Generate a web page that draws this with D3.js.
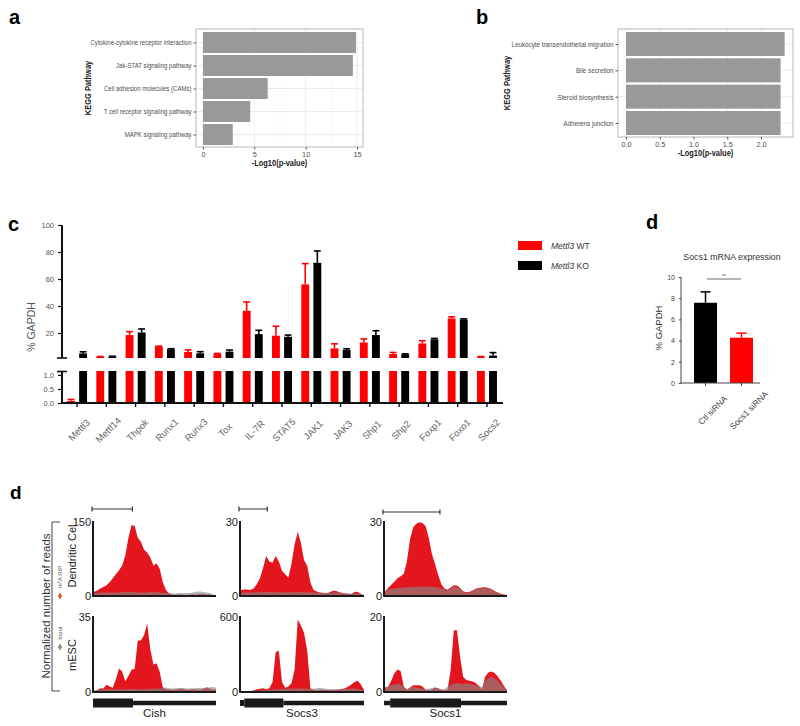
<!DOCTYPE html>
<html><head><meta charset="utf-8">
<script src="https://cdn.jsdelivr.net/npm/d3@7"></script>
<style>
body{margin:0;background:#fff}
svg{display:block}
text{font-family:"Liberation Sans",Arial,Helvetica,sans-serif}
</style>
</head><body><svg id="fig" width="800" height="726"></svg>
<script>
// ---------------- DATA ----------------
const keggA = ["Cytokine-cytokine receptor interaction","Jak-STAT signaling pathway","Cell adhesion molecules (CAMs)","T cell receptor signaling pathway","MAPK signaling pathway"];
const keggAValues = [14.9,14.6,6.3,4.6,2.9];
const keggATicks = [0,5,10,15];

const keggB = ["Leukocyte transendothelial migration","Bile secretion","Steroid biosynthesis","Adherens junction"];
const keggBValues = [2.35,2.29,2.29,2.29];
const keggBTicks = [0,0.5,1.0,1.5,2.0];

const genesC = ["Mettl3","Mettl14","Thpok","Runx1","Runx3","Tox","IL-7R","STAT5","JAK1","JAK3","Shp1","Shp2","Foxp1","Foxo1","Socs2"];
const wtValues = [0.08,2.3,18.5,9.9,6.0,4.4,36.5,18,56,8.6,13,4.4,12.3,30.8,2.2];
const wtErr    = [0.05,0.3,2.5,0.4,1.5,0.5,6.5,7,15.4,3.4,2.6,1.2,2.0,1.2,0.4];
const koValues = [4.9,2.5,20.4,8,5,6.2,19.2,17.2,72,7.4,18.5,4.2,15.3,30,3.3];
const koErr    = [1.2,0.3,2.6,0.4,1.2,1.2,2.8,1.3,8.8,0.9,3.2,0.4,0.7,0.5,2.2];
const upperTicks = [20,40,60,80,100];
const lowerTicks = [0,0.5,1.0];
const legendC = ["WT","KO"];

const siLabels = ["Ctl siRNA","Socs1 siRNA"];
const siValues = [7.57,4.27];
const siErr = [1.03,0.43];
const siTicks = [0,2,4,6,8,10];

const trackGenes = ["Cish","Socs3","Socs1"];
const trackMaxDC = [150,30,30];
const trackMaxES = [35,600,20];
const cishDcRip   = [8,11,15,18,22,28,36,44,52,62,82,118,144,142,118,110,94,88,78,62,66,55,28,12,5,3,2,3,3,2,2,3,3,3,4,4,3,3,2,1];
const cishDcInput = [6,6,7,7,7,7,7,7,7,8,8,8,8,8,7,7,7,7,8,8,8,7,6,6,5,5,5,6,6,6,6,6,8,9,9,8,7,6,3,1];
const socs3DcRip   = [2.4,2.6,2.6,2.4,3.0,4.8,7.2,11.5,16.2,14.0,13.5,16.2,14,10.2,8.8,7.5,13,21,26,21.5,14.5,12.2,5.5,2.4,1.8,1.4,1.3,1.1,1.4,2.0,2.1,1.6,1.3,1.0,0.9,0.8,1.6,1.7,0.8,0.3];
const socs3DcInput = [1.3,1.4,1.4,1.4,1.5,1.5,1.6,1.6,1.6,1.6,1.6,1.6,1.5,1.5,1.5,1.5,1.5,1.6,1.6,1.6,1.5,1.5,1.4,1.4,1.3,1.2,1.2,1.1,1.2,1.3,1.4,1.3,1.2,1.1,1.0,0.9,1.0,1.1,0.7,0.3];
const socs1DcRip   = [1.8,3.2,4.6,5.8,7.2,8.0,9.0,14,23,27.8,29.3,29.9,29.6,28.3,23.5,17,13,8.5,4.8,3.0,2.5,3.4,4.4,4.3,3.2,1.9,1.5,1.6,2.2,2.9,3.2,3.4,3.5,3.2,2.8,2.0,1.4,0.9,0.6,0.4];
const socs1DcInput = [1.8,2.6,2.9,3.0,3.2,3.3,3.4,3.5,3.6,3.6,3.7,3.7,3.8,3.8,3.8,3.7,3.6,3.4,3.0,2.6,2.2,3.0,4.0,3.8,2.8,1.7,1.2,1.3,1.9,2.6,2.9,3.1,3.1,2.9,2.5,1.7,1.1,0.7,0.4,0.3];
const cishEsRip   = [0.3,0.8,1.8,1.6,3.4,2.6,2.0,6.0,11.0,9.6,5.0,7.5,10.4,10.8,24,24,26.5,32,20,12.8,13.4,9.5,2.2,1.3,1.2,1.1,1.0,1.4,1.6,1.2,1.0,1.2,1.3,1.1,1.0,1.5,2.2,1.5,1.2,1.0];
const cishEsInput = [0.8,1.0,1.1,1.2,1.3,1.3,1.2,1.3,1.4,1.3,1.2,1.3,1.4,1.5,1.4,1.3,1.3,1.4,1.5,1.6,1.6,1.5,2.0,2.1,1.8,1.6,1.7,1.9,1.9,1.7,1.6,1.7,1.8,1.9,2.0,1.9,2.0,2.2,2.3,2.0];
const socs3EsRip   = [6,8,8,9,12,22,26,30,22,30,80,320,330,80,35,45,70,180,580,530,475,330,30,18,14,16,18,16,14,16,18,20,24,30,45,60,80,90,60,18];
const socs3EsInput = [5,6,6,7,8,10,12,14,16,18,20,22,24,25,26,27,28,28,28,28,27,26,25,26,30,34,30,26,24,22,20,20,22,24,26,28,28,26,20,10];
const socs1EsRip   = [1.2,1.4,3.0,5.0,6.0,5.6,1.5,0.6,1.2,1.8,1.8,1.8,1.5,0.6,0.5,0.7,1.2,1.0,0.6,0.5,0.6,6,16.5,16.5,9.5,4.0,3.2,3.0,2.8,2.4,1.6,0.7,4.0,5.2,5.5,5.1,4.2,3.0,1.6,0.5];
const socs1EsInput = [1.2,1.4,1.8,2.0,2.2,2.0,1.4,0.8,1.1,1.4,1.2,1.0,0.9,0.8,0.9,1.1,1.2,0.9,0.7,0.8,1.4,1.8,2.2,2.4,2.2,2.2,2.3,2.2,2.0,1.8,1.5,1.4,3.0,3.6,4.1,3.6,3.0,2.0,1.2,0.4];
// gene models: [start, end, kind] as fraction of locus
const cishModel  = [[0,0.325,"thick"],[0.325,1,"thin"]];
const socs3Model = [[0,0.035,"mid"],[0.035,0.35,"thick"],[0.35,1,"thin"]];
const socs1Model = [[0,0.05,"thin"],[0.05,0.626,"thick"],[0.626,1,"thin"]];
const scaleBarFrac = [0.32,0.22,0.455];

// ---------------- DRAW ----------------
const svg = d3.select("#fig");
const RED = "#ff0000", TRACKRED = "#e3161e";

function panelLabel(t,x,y,size){
  svg.append("text").attr("x",x).attr("y",y).attr("font-size",size||20).attr("font-weight","bold").attr("fill","#000").text(t);
}
panelLabel("a",9,24); panelLabel("b",476,24); panelLabel("c",8,231); panelLabel("d",646,229); panelLabel("d",10,499,19);

function squeeze(sel, k){
  sel.each(function(){
    const L = this.getComputedTextLength();
    d3.select(this).attr("textLength",L*k).attr("lengthAdjust","spacingAndGlyphs");
  });
}

// ---- ggplot style bar chart ----
function kegg(cats, vals, ticks, box, x0px, x2px, xv2, yRange, barH, titleX, titleY, fmt, firstLabelW){
  const g = svg.append("g");
  const x = d3.scaleLinear().domain([0,xv2]).range([x0px,x2px]);
  const y = d3.scalePoint().domain(cats).range(yRange);
  const minor = d3.range(ticks.length-1).map(i=>(ticks[i]+ticks[i+1])/2);
  minor.push(ticks[ticks.length-1] + (ticks[1]-ticks[0])/2);
  g.selectAll(".gmin").data(minor.filter(v=>x(v)<box[2])).enter().append("line")
    .attr("x1",d=>x(d)).attr("x2",d=>x(d)).attr("y1",box[1]).attr("y2",box[3]).attr("stroke","#f3f3f3").attr("stroke-width",0.6);
  g.selectAll(".gmaj").data(ticks).enter().append("line")
    .attr("x1",d=>x(d)).attr("x2",d=>x(d)).attr("y1",box[1]).attr("y2",box[3]).attr("stroke","#e6e6e6").attr("stroke-width",0.8);
  g.selectAll(".gh").data(cats).enter().append("line")
    .attr("x1",box[0]).attr("x2",box[2]).attr("y1",d=>y(d)).attr("y2",d=>y(d)).attr("stroke","#e6e6e6").attr("stroke-width",0.8);
  g.selectAll(".bar").data(cats).enter().append("rect")
    .attr("x",x(0)).attr("y",d=>y(d)-barH/2).attr("height",barH)
    .attr("width",(d,i)=>x(vals[i])-x(0)).attr("fill","#999999");
  g.append("rect").attr("x",box[0]).attr("y",box[1]).attr("width",box[2]-box[0]).attr("height",box[3]-box[1])
    .attr("fill","none").attr("stroke","#b8b8b8").attr("stroke-width",1);
  const ax = g.append("g").attr("transform",`translate(${box[0]},0)`).call(d3.axisLeft(y).tickSize(2.5).tickPadding(2));
  ax.select(".domain").remove();
  ax.selectAll("line").attr("stroke","#555");
  const lab = ax.selectAll("text").attr("font-size",7.6).attr("fill","#4d4d4d");
  const k = firstLabelW / lab.node().getComputedTextLength();
  squeeze(lab, k);
  const bx = g.append("g").attr("transform",`translate(0,${box[3]})`).call(d3.axisBottom(x).tickValues(ticks).tickFormat(fmt).tickSize(2.5).tickPadding(2));
  bx.select(".domain").remove();
  bx.selectAll("line").attr("stroke","#555");
  bx.selectAll("text").attr("font-size",7.3).attr("fill","#4d4d4d");
  const t1 = g.append("text").attr("x",(box[0]+box[2])/2).attr("y",titleY).attr("text-anchor","middle")
    .attr("font-size",8.8).attr("font-weight","bold").attr("fill","#222").text("-Log10(p-value)");
  const t2 = g.append("text").attr("transform",`translate(${titleX},${(box[1]+box[3])/2}) rotate(-90)`).attr("text-anchor","middle")
    .attr("font-size",8.8).attr("font-weight","bold").attr("fill","#222").text("KEGG Pathway");
  squeeze(t1, 0.85); squeeze(t2, 0.85);
}
kegg(keggA,keggAValues,keggATicks,[196,29,363,147],203,357,15,[42.5,134.5],21,91,166,d3.format("d"),101);
kegg(keggB,keggBValues,keggBTicks,[618,29,793,137],626,761,2,[44,123],24,510,156,d3.format(".1f"),102);

// ---- panel c ----
(function(){
  const g = svg.append("g");
  const x = d3.scaleBand().domain(genesC).range([62.4,501.6]);
  const sub = d3.scaleBand().domain(legendC).range([-10,10]).paddingInner(0.35);
  const yUp = d3.scaleLinear().domain([1.5,100]).range([358,225]);
  const yLo = d3.scaleLinear().domain([0,1.14]).range([403,371]);
  const series = [{k:"WT",v:wtValues,e:wtErr,c:RED},{k:"KO",v:koValues,e:koErr,c:"#000"}];
  series.forEach(s=>{
    genesC.forEach((gname,i)=>{
      const cx = x(gname)+x.bandwidth()/2 + sub(s.k);
      const w = sub.bandwidth();
      const v = s.v[i], top = v + s.e[i];
      const lv = Math.min(v,1.14);
      g.append("rect").attr("x",cx).attr("width",w).attr("y",yLo(lv)).attr("height",yLo(0)-yLo(lv)).attr("fill",s.c);
      if (v > 1.5){
        g.append("rect").attr("x",cx).attr("width",w).attr("y",yUp(v)).attr("height",yUp(1.5)-yUp(v)).attr("fill",s.c);
        g.append("line").attr("x1",cx+w/2).attr("x2",cx+w/2).attr("y1",yUp(v)).attr("y2",yUp(top)).attr("stroke",s.c).attr("stroke-width",1.6);
        g.append("line").attr("x1",cx+0.5).attr("x2",cx+w-0.5).attr("y1",yUp(top)).attr("y2",yUp(top)).attr("stroke",s.c).attr("stroke-width",1.6);
      } else if (top < 1.14){
        g.append("line").attr("x1",cx+w/2).attr("x2",cx+w/2).attr("y1",yLo(v)).attr("y2",yLo(top)).attr("stroke",s.c).attr("stroke-width",1.4);
        g.append("line").attr("x1",cx+0.5).attr("x2",cx+w-0.5).attr("y1",yLo(top)).attr("y2",yLo(top)).attr("stroke",s.c).attr("stroke-width",1.4);
      }
    });
  });
  const au = g.append("g").attr("transform","translate(62,0)").call(d3.axisLeft(yUp).tickValues(upperTicks).tickSize(4).tickPadding(4));
  const al = g.append("g").attr("transform","translate(62,0)").call(d3.axisLeft(yLo).tickValues(lowerTicks).tickFormat(d3.format(".1f")).tickSize(4).tickPadding(4));
  [au,al].forEach(a=>{
    a.select(".domain").attr("stroke","#111").attr("stroke-width",2);
    a.selectAll(".tick line").attr("stroke","#111").attr("stroke-width",1.2);
    a.selectAll("text").attr("font-size",7.5).attr("fill","#555");
  });
  au.select(".domain").attr("d","M0,225V358");
  al.select(".domain").attr("d","M0,371V403");
  g.append("line").attr("x1",57).attr("x2",67).attr("y1",358).attr("y2",358).attr("stroke","#111").attr("stroke-width",1.6);
  g.append("line").attr("x1",57).attr("x2",67).attr("y1",371.5).attr("y2",371.5).attr("stroke","#111").attr("stroke-width",1.6);
  const xa = g.append("g").attr("transform","translate(0,403)").call(d3.axisBottom(x).tickSize(4).tickSizeOuter(0).tickPadding(3));
  xa.select(".domain").attr("stroke","#111").attr("stroke-width",2).attr("d","M61,0H503");
  xa.selectAll(".tick line").attr("stroke","#111").attr("stroke-width",1.4);
  xa.selectAll("text").attr("font-size",9.5).attr("fill","#666").attr("text-anchor","middle")
    .attr("transform","translate(-3,22) rotate(-45)").attr("dy","0.35em");
  g.append("text").attr("transform","translate(35,327) rotate(-90)").attr("text-anchor","middle")
    .attr("font-size",10.5).attr("fill","#555").text("% GAPDH");
  const lg = g.append("g");
  [["WT",RED],["KO","#000"]].forEach((d,i)=>{
    lg.append("rect").attr("x",518).attr("y",241+i*20).attr("width",24).attr("height",9).attr("fill",d[1]);
    const t = lg.append("text").attr("x",551).attr("y",248.5+i*20).attr("font-size",8.5).attr("fill","#333");
    t.append("tspan").attr("font-style","italic").text("Mettl3");
    t.append("tspan").text(" "+d[0]);
  });
})();

// ---- panel d (Socs1 mRNA) ----
(function(){
  const g = svg.append("g");
  const y = d3.scaleLinear().domain([0,10]).range([383,277]);
  const x = d3.scaleBand().domain(siLabels).range([694,753]).paddingInner(0.36);
  const cols = ["#000",RED];
  siLabels.forEach((s,i)=>{
    const bx = x(s), w = x.bandwidth();
    g.append("rect").attr("x",bx).attr("y",y(siValues[i])).attr("width",w).attr("height",y(0)-y(siValues[i])).attr("fill",cols[i]);
    const cx = bx+w/2, t = y(siValues[i]+siErr[i]);
    g.append("line").attr("x1",cx).attr("x2",cx).attr("y1",y(siValues[i])).attr("y2",t).attr("stroke",cols[i]).attr("stroke-width",1.5);
    g.append("line").attr("x1",cx-5).attr("x2",cx+5).attr("y1",t).attr("y2",t).attr("stroke",cols[i]).attr("stroke-width",1.5);
  });
  const ay = g.append("g").attr("transform","translate(681,0)").call(d3.axisLeft(y).tickValues(siTicks).tickSize(2).tickPadding(4));
  ay.select(".domain").attr("d","M0,277V383").attr("stroke","#444").attr("stroke-width",1);
  ay.selectAll("line").attr("stroke","#444");
  ay.selectAll("text").attr("font-size",7).attr("fill","#444");
  const ax = g.append("g").attr("transform","translate(0,383)").call(d3.axisBottom(x).tickSize(3).tickPadding(3));
  ax.select(".domain").attr("d","M681,0H760").attr("stroke","#444").attr("stroke-width",1);
  ax.selectAll("line").attr("stroke","#444");
  ax.selectAll("text").attr("font-size",8.5).attr("fill","#444").attr("text-anchor","middle")
    .attr("transform","translate(3,23) rotate(-45)").attr("dy","0.35em");
  g.append("text").attr("x",732).attr("y",260).attr("text-anchor","middle").attr("font-size",8.8).attr("fill","#333").text("Socs1 mRNA expression");
  g.append("text").attr("transform","translate(662,328) rotate(-90)").attr("text-anchor","middle").attr("font-size",9.5).attr("fill","#333").text("% GAPDH");
  g.append("line").attr("x1",707).attr("x2",741).attr("y1",279).attr("y2",279).attr("stroke","#444").attr("stroke-width",0.8);
  g.append("text").attr("x",724).attr("y",277.5).attr("text-anchor","middle").attr("font-size",5).attr("fill","#444").text("**");
})();

// ---- coverage tracks ----
(function(){
  const g = svg.append("g");
  const colX = [[93,216],[240,364],[384,507]];
  const rowY = [[522,596],[617,692]];
  const dcRip = [cishDcRip,socs3DcRip,socs1DcRip], dcIn = [cishDcInput,socs3DcInput,socs1DcInput];
  const esRip = [cishEsRip,socs3EsRip,socs1EsRip], esIn = [cishEsInput,socs3EsInput,socs1EsInput];
  const models = [cishModel,socs3Model,socs1Model];
  const sbY = [509,509,512];
  trackGenes.forEach((gene,c)=>{
    const [x0,x1] = colX[c];
    [[dcRip[c],dcIn[c],trackMaxDC[c]],[esRip[c],esIn[c],trackMaxES[c]]].forEach((tr,r)=>{
      const [rip,inp,mx] = tr;
      const y = d3.scaleLinear().domain([0,mx]).range([rowY[r][1],rowY[r][0]]);
      const x = d3.scaleLinear().domain([0,rip.length-1]).range([x0+1,x1]);
      const area = d3.area().x((d,i)=>x(i)).y0(y(0)).y1(d=>y(d));
      g.append("path").attr("d",area(rip)).attr("fill",TRACKRED);
      g.append("path").attr("d",area(inp)).attr("fill","#888").attr("fill-opacity",0.62);
      g.append("path").attr("d",`M${x0},${rowY[r][0]-1}V${rowY[r][1]}H${x1}`).attr("fill","none").attr("stroke","#1a1a1a").attr("stroke-width",2);
      g.append("text").attr("x",x0-2).attr("y",y(mx)).attr("dy","0.35em").attr("text-anchor","end").attr("font-size",11).attr("fill","#222").text(mx);
      g.append("text").attr("x",x0-2).attr("y",y(0)).attr("dy","0.35em").attr("text-anchor","end").attr("font-size",11).attr("fill","#222").text(0);
    });
    const gx = d3.scaleLinear().domain([0,1]).range([x0,x1]);
    const hh = {thick:9,mid:6,thin:4.5};
    models[c].forEach(s=>{
      g.append("rect").attr("x",gx(s[0])).attr("width",gx(s[1])-gx(s[0])).attr("y",703-hh[s[2]]/2).attr("height",hh[s[2]]).attr("fill","#1a1a1a");
    });
    g.append("text").attr("x",(x0+x1)/2).attr("y",717).attr("text-anchor","middle").attr("font-size",11.5).attr("fill","#222").text(gene);
    const sx1 = gx(scaleBarFrac[c]);
    g.append("path").attr("d",`M${x0-1},${sbY[c]}H${sx1}M${x0-1},${sbY[c]-2.5}v5M${sx1},${sbY[c]-2.5}v5`).attr("stroke","#333").attr("stroke-width",1.2).attr("fill","none");
  });
  g.append("path").attr("d","M60,522H52V691H60").attr("fill","none").attr("stroke","#444").attr("stroke-width",1);
  g.append("text").attr("transform","translate(50,606) rotate(-90)").attr("text-anchor","middle").attr("font-size",11.5).attr("fill","#333").text("Normalized number of reads");
  g.append("text").attr("transform","translate(75.5,556) rotate(-90)").attr("text-anchor","middle").attr("font-size",11).attr("fill","#222").text("Dendritic Cel");
  g.append("text").attr("transform","translate(75.5,655) rotate(-90)").attr("text-anchor","middle").attr("font-size",11).attr("fill","#222").text("mESC");
  const sym = d3.symbol().type(d3.symbolDiamond).size(14);
  g.append("path").attr("d",sym()).attr("transform","translate(60,596)").attr("fill","#f04a23");
  g.append("path").attr("d",sym()).attr("transform","translate(60,647)").attr("fill","#888");
  const m6 = g.append("text").attr("transform","translate(62,577) rotate(-90)").attr("text-anchor","middle").attr("font-size",6).attr("fill","#555");
  m6.append("tspan").text("m");
  m6.append("tspan").attr("font-size",4).attr("dy",-2).text("6");
  m6.append("tspan").attr("dy",2).text("A RIP");
  g.append("text").attr("transform","translate(62,633) rotate(-90)").attr("text-anchor","middle").attr("font-size",6).attr("fill","#555").text("Input");
})();
</script></body></html>
